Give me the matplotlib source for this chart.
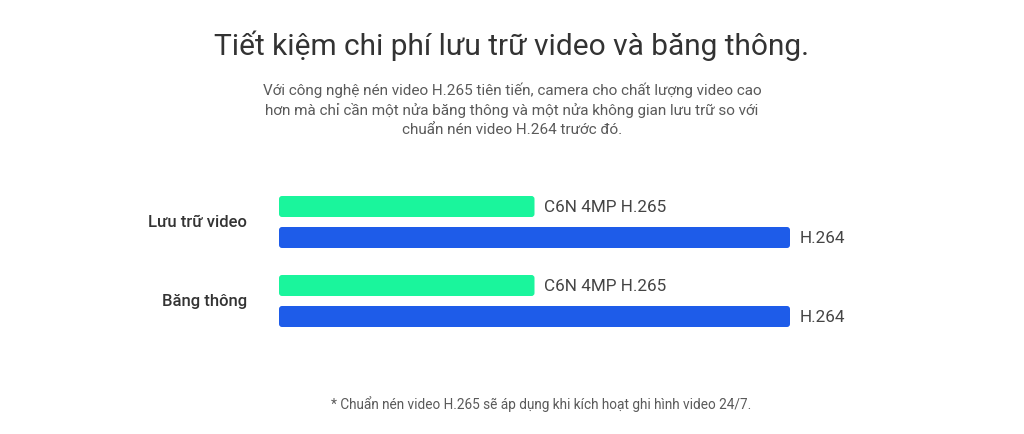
import matplotlib
matplotlib.use("Agg")
import matplotlib.pyplot as plt
from matplotlib.patches import FancyBboxPatch

plt.rcParams['font.family'] = ['Roboto', 'DejaVu Sans']

# data (relative size, H.264 = 100)
categories = ["Lưu trữ video", "Băng thông"]
series_names = ["C6N 4MP H.265", "H.264"]
h265_values = [50, 50]
h264_values = [100, 100]

title = "Tiết kiệm chi phí lưu trữ video và băng thông."
subtitle = ("Với công nghệ nén video H.265 tiên tiến, camera cho chất lượng video cao\n"
            "hơn mà chỉ cần một nửa băng thông và một nửa không gian lưu trữ so với\n"
            "chuẩn nén video H.264 trước đó.")
footnote = "* Chuẩn nén video H.265 sẽ áp dụng khi kích hoạt ghi hình video 24/7."

green = "#1AF59C"
blue = "#1E5CE9"

W, H = 1024, 435
fig = plt.figure(figsize=(W / 100, H / 100), dpi=100)
fig.patch.set_facecolor("white")

# axes placed in pixel terms: x from 279 to 790 px, y from 180 to 340 px
ax = fig.add_axes([279 / W, 1 - 341 / H, (790 - 279) / W, 160 / H])
ax.set_xlim(0, 100)
ax.set_ylim(1 + 39 / 79, -42 / 79)
ax.axis("off")

bar_h = 21 / 79
off = 15.5 / 79
ypos = list(range(len(categories)))

# px -> data scales for rounded corners
x_per_px = 100 / 511
y_per_px = 1 / 79
rad = 3 * x_per_px

for i, y in enumerate(ypos):
    for val, color, name, dy in [(h265_values[i], green, series_names[0], -off),
                                 (h264_values[i], blue, series_names[1], off)]:
        p = FancyBboxPatch((0, y + dy - bar_h / 2), val, bar_h,
                           boxstyle=f"round,pad=0,rounding_size={rad}",
                           mutation_aspect=y_per_px / x_per_px,
                           facecolor=color, edgecolor="none")
        ax.add_patch(p)
        ax.text(val + 10 * x_per_px, y + dy, name, va="center", ha="left",
                fontsize=12.3, color="#444444")
    ax.text(-32 * x_per_px, y, categories[i], va="center", ha="right",
            fontsize=12, fontweight="medium", color="#333333")

fig.text(0.5, 1 - 46 / H, title, ha="center", va="center", fontsize=21.5,
         color="#333333")
fig.text(0.5, 1 - 110 / H, subtitle, ha="center", va="center", fontsize=11,
         color="#5a5a5a", linespacing=1.42)
fig.text(541 / W, 1 - 404 / H, footnote, ha="center", va="center", fontsize=9.8,
         color="#5a5a5a")

fig.savefig("out.png", dpi=100, facecolor="white")
